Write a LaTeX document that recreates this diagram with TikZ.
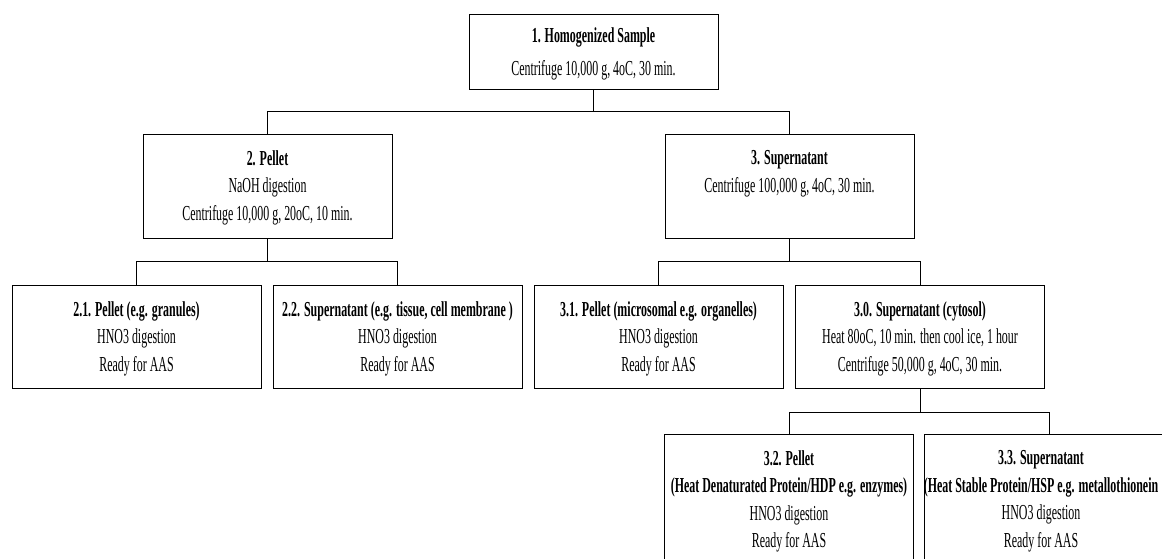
\documentclass[tikz,border=0pt]{standalone}
\usepackage{fontspec}
\setmainfont{Liberation Serif}[FakeStretch=0.56]
\usetikzlibrary{positioning}

\tikzset{every picture/.style={line width=0.75pt}}
\tikzset{
  box/.style={draw, rectangle, anchor=north, minimum width=186.75pt, inner sep=0pt},
  boxtext/.style={anchor=north, inner sep=0pt, align=center, font=\fontsize{16}{20.6}\selectfont},
}

\begin{document}
\begin{tikzpicture}[x=0.75pt,y=0.75pt,yscale=-1,xscale=1]
  \useasboundingbox (0,0) rectangle (1162,559);
  \clip (0,0) rectangle (1162,559);

  %Shape: Rectangle (level 1)
  \node[box, minimum height=56.25pt] (b1) at (593.5,14) {};
  %Shape: Rectangle (level 2)
  \node[box, minimum height=78pt] (b2) at (267.5,134) {};
  \node[box, minimum height=78pt] (b3) at (789.5,134) {};
  %Shape: Rectangle (level 3)
  \node[box, minimum height=77.25pt] (b21) at (136.5,285) {};
  \node[box, minimum height=77.25pt] (b22) at (397.5,285) {};
  \node[box, minimum height=77.25pt] (b31) at (658.5,285) {};
  \node[box, minimum height=77.25pt] (b30) at (920,285) {};
  %Shape: Rectangle (level 4)
  \node[box, minimum height=105pt] (b32) at (789,434) {};
  \node[box, minimum height=105pt] (b33) at (1049,434) {};

  % junctions
  \coordinate (j1) at (593.5,112);
  \coordinate (j2) at (267.5,262);
  \coordinate (j3) at (789.5,262);
  \coordinate (j4) at (920,412);

  \draw (b1.south) -- (j1) -| (b2.north);
  \draw (j1) -| (b3.north);
  \draw (b2.south) -- (j2) -| (b21.north);
  \draw (j2) -| (b22.north);
  \draw (b3.south) -- (j3) -| (b31.north);
  \draw (j3) -| (b30.north);
  \draw (b30.south) -- (j4) -| (b32.north);
  \draw (j4) -| (b33.north);

  \node[boxtext, font=\fontsize{16}{24.75}\selectfont, below=10pt of b1.north] (t1)
    {\textbf{1. Homogenized Sample}\\Centrifuge 10,000 g, 4oC, 30 min.};
  \node[boxtext, below=12pt of b2.north] (t2)
    {\textbf{2. Pellet}\\NaOH digestion\\Centrifuge 10,000 g, 20oC, 10 min.};
  \node[boxtext, below=12pt of b3.north] (t3)
    {\textbf{3. Supernatant}\\Centrifuge 100,000 g, 4oC, 30 min.};
  \node[boxtext, below=12pt of b21.north] (t21)
    {\textbf{2.1. Pellet (e.g. granules)}\\HNO3 digestion\\Ready for AAS};
  \node[boxtext, below=12pt of b22.north] (t22)
    {\textbf{2.2. Supernatant (e.g. tissue, cell membrane )}\\HNO3 digestion\\Ready for AAS};
  \node[boxtext, below=12pt of b31.north] (t31)
    {\textbf{3.1. Pellet (microsomal e.g. organelles)}\\HNO3 digestion\\Ready for AAS};
  \node[boxtext, below=12pt of b30.north] (t30)
    {\textbf{3.0. Supernatant (cytosol)}\\Heat 80oC, 10 min. then cool ice, 1 hour\\Centrifuge 50,000 g, 4oC, 30 min.};
  \node[boxtext, below=12pt of b32.north] (t32)
    {\textbf{3.2. Pellet}\\\textbf{(Heat Denaturated Protein/HDP e.g. enzymes)}\\HNO3 digestion\\Ready for AAS};
  \node[boxtext, below=12pt of b33.north, xshift=-6pt] (t33)
    {\textbf{3.3. Supernatant}\\\textbf{(Heat Stable Protein/HSP e.g. metallothionein}\\HNO3 digestion\\Ready for AAS};

\end{tikzpicture}
\end{document}
